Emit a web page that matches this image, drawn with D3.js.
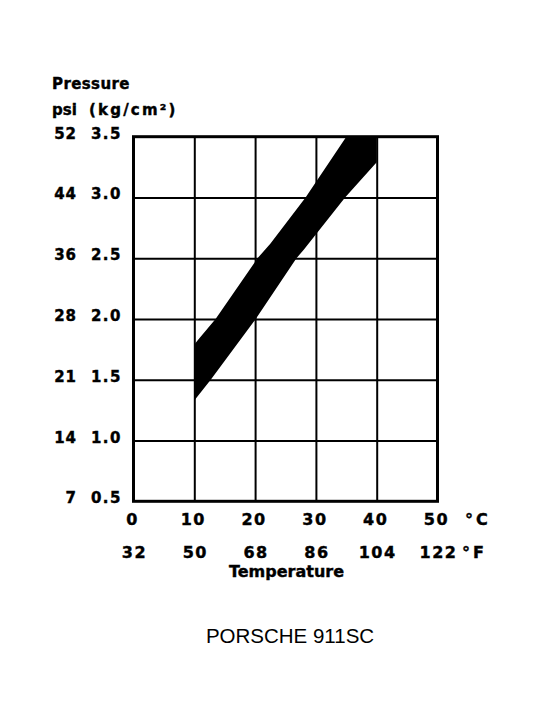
<!DOCTYPE html>
<html>
<head>
<meta charset="utf-8">
<script src="https://cdn.jsdelivr.net/npm/d3@7/dist/d3.min.js"></script>
<style>
html,body{margin:0;padding:0;background:#fff;}
svg{display:block;}
.lbl{font-family:"DejaVu Sans",sans-serif;font-weight:bold;fill:#000;stroke:#000;stroke-width:0.4;}
</style>
</head>
<body>
<svg id="chart" width="554" height="724"></svg>
<script>
// ---- data ----
const tempC = [0, 10, 20, 30, 40, 50];
const tempF = [32, 50, 68, 86, 104, 122];
const pressKg = [0.5, 1.0, 1.5, 2.0, 2.5, 3.0, 3.5];
const pressPsi = [7, 14, 21, 28, 36, 44, 52];
// band edges: [temperature °C, pressure kg/cm²]
const bandUpper = [[10, 1.79], [10.8, 1.84], [13.5, 2.0], [20.4, 2.5], [22.5, 2.62], [28.3, 3.0], [35.0, 3.5]];
const bandLower = [[10, 1.33], [12.7, 1.5], [20.1, 2.0], [26.8, 2.5], [28.0, 2.57], [34.8, 3.0], [40, 3.29]];
const bandCorner = [40, 3.5];

const svg = d3.select("#chart");
const pLeft = 133.5, pRight = 437.5, pTop = 136.7, pBottom = 501.3;
const x = d3.scaleLinear().domain([0, 50]).range([pLeft, pRight]);
const y = d3.scaleLinear().domain([0.5, 3.5]).range([pBottom, pTop]);

// grid lines via axes
const gx = svg.append("g").attr("transform", `translate(0,${pBottom})`)
  .call(d3.axisBottom(x).tickValues(tempC.slice(1, -1)).tickSize(-(pBottom - pTop)).tickFormat(""));
const gy = svg.append("g").attr("transform", `translate(${pLeft},0)`)
  .call(d3.axisLeft(y).tickValues(pressKg.slice(1, -1)).tickSize(-(pRight - pLeft)).tickFormat(""));
[gx, gy].forEach(g => {
  g.select(".domain").remove();
  g.selectAll("line").attr("stroke", "#000").attr("stroke-width", 2);
});

// band
const poly = bandUpper.concat([bandCorner]).concat(bandLower.slice().reverse());
svg.append("path")
  .attr("d", d3.line().x(d => x(d[0])).y(d => y(d[1]))(poly) + "Z")
  .attr("fill", "#000");

// frame
svg.append("rect").attr("x", pLeft).attr("y", pTop)
  .attr("width", pRight - pLeft).attr("height", pBottom - pTop)
  .attr("fill", "none").attr("stroke", "#000").attr("stroke-width", 3);

// left labels
const ly = svg.append("g");
pressKg.forEach((v, i) => {
  ly.append("text").attr("class", "lbl").attr("x", 122).attr("y", y(v) + 2)
    .attr("text-anchor", "end").attr("font-size", 15).attr("letter-spacing", 1.5)
    .text(v.toFixed(1));
  ly.append("text").attr("class", "lbl").attr("x", 77).attr("y", y(v) + 2)
    .attr("text-anchor", "end").attr("font-size", 15).attr("letter-spacing", 1)
    .text(pressPsi[i]);
});
svg.append("text").attr("class", "lbl").attr("x", 52).attr("y", 88.5)
  .attr("font-size", 15).attr("letter-spacing", 0.4).text("Pressure");
svg.append("text").attr("class", "lbl").attr("x", 52).attr("y", 114.5)
  .attr("font-size", 15).text("psi");
svg.append("text").attr("class", "lbl").attr("x", 89).attr("y", 114.5)
  .attr("font-size", 15).attr("letter-spacing", 2.2).text("(kg/cm²)");

// bottom labels
tempC.forEach((v, i) => {
  svg.append("text").attr("class", "lbl").attr("x", x(v) - 1).attr("y", 525)
    .attr("text-anchor", "middle").attr("font-size", 16).attr("letter-spacing", 1.5).text(v);
  svg.append("text").attr("class", "lbl").attr("x", x(v) + 1).attr("y", 558)
    .attr("text-anchor", "middle").attr("font-size", 16).attr("letter-spacing", 1.5).text(tempF[i]);
});
svg.append("text").attr("class", "lbl").attr("x", 465).attr("y", 525)
  .attr("font-size", 16).attr("letter-spacing", 3).text("°C");
svg.append("text").attr("class", "lbl").attr("x", 462).attr("y", 558)
  .attr("font-size", 16).attr("letter-spacing", 3).text("°F");
svg.append("text").attr("class", "lbl").attr("x", 286.5).attr("y", 577)
  .attr("text-anchor", "middle").attr("font-size", 16).text("Temperature");

svg.append("text").attr("x", 290).attr("y", 643.3)
  .attr("text-anchor", "middle").attr("font-family", "'Liberation Sans', Arial, sans-serif")
  .attr("font-size", 20.5).attr("fill", "#000").text("PORSCHE 911SC");
</script>
</body>
</html>
